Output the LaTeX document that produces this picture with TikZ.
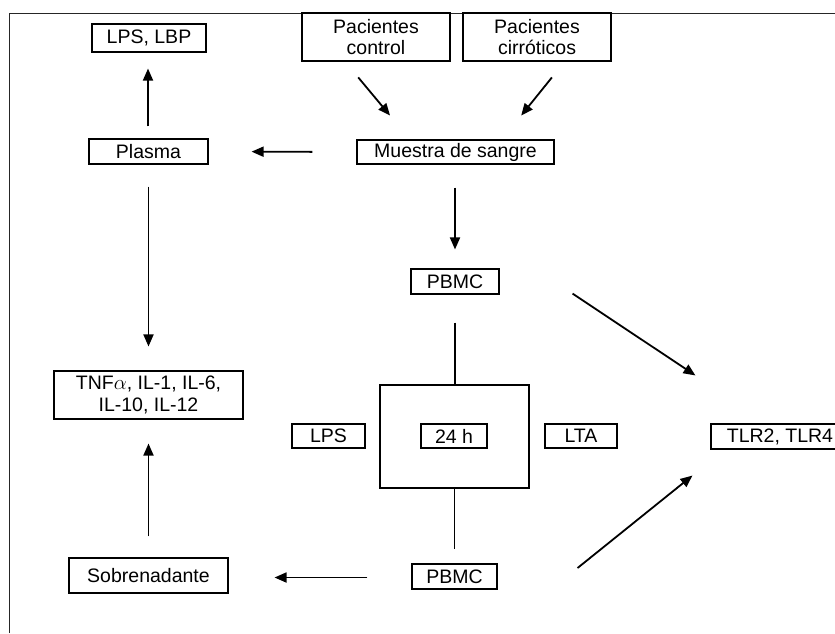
\documentclass[tikz,border=0pt]{standalone}
\usepackage{fontspec}
\setmainfont{Liberation Sans}
\usetikzlibrary{arrows.meta}
\begin{document}
\begin{tikzpicture}[x=1pt,y=-1pt,
  box/.style={draw,line width=1.1pt,rectangle,inner sep=0pt,align=center,
    font=\fontsize{19.5}{21.5}\selectfont},
  arr/.style={line width=1.8pt,-{Triangle[length=12pt,width=10pt]}},
  ln/.style={line width=1.1pt}]
\useasboundingbox (0,0) rectangle (835,633);
\clip (0,0) rectangle (835,633);
\draw[line width=1pt,black!85] (9,633) -- (9,13) -- (835,13);
% nodes
\node[box,minimum width=114pt,minimum height=28pt] (lpslbp) at (149,38) {LPS, LBP};
\node[box,minimum width=119pt,minimum height=25pt] (plasma) at (148.5,151.5) {Plasma};
\node[box,minimum width=189pt,minimum height=48pt] (tnf) at (148.5,395) {TNF$\alpha$, IL-1, IL-6,\\IL-10, IL-12};
\node[box,minimum width=159pt,minimum height=35pt] (sobre) at (148.5,575.5) {Sobrenadante};
\node[box,minimum width=148pt,minimum height=48pt] (control) at (376,37) {Pacientes\\control};
\node[box,minimum width=148pt,minimum height=48pt] (cirr) at (537,37) {Pacientes\\cirróticos};
\node[box,minimum width=197pt,minimum height=24pt] (muestra) at (455.5,152) {Muestra de sangre};
\node[box,minimum width=88pt,minimum height=25pt] (pbmca) at (455,281.5) {PBMC};
\node[draw,line width=1.1pt,minimum width=149pt,minimum height=103pt,inner sep=0pt] (big) at (454.5,436.5) {};
\node[box,minimum width=66pt,minimum height=24pt] (h24) at (454,436) {24 h};
\node[box,minimum width=73pt,minimum height=24pt] (lps) at (328.5,436) {LPS};
\node[box,minimum width=72pt,minimum height=24pt] (lta) at (581,436) {LTA};
\node[box,minimum width=138pt,minimum height=25pt] (tlr) at (780,436.5) {TLR2, TLR4};
\node[box,minimum width=85pt,minimum height=25pt] (pbmcb) at (454.5,576.5) {PBMC};
% connectors
\draw[arr,shorten <=12pt,shorten >=16pt] ([xshift=-0.5pt]plasma.north) -- ([xshift=-1pt]lpslbp.south);
\draw[arr,shorten <=44pt,shorten >=43pt] (muestra.west) -- (plasma.east);
\draw[arr,shorten <=22pt,shorten >=24pt] (plasma.south) -- (tnf.north);
\draw[arr,shorten <=21pt,shorten >=24pt] (sobre.north) -- (tnf.south);
\draw[arr,shorten <=44pt,shorten >=46pt] ([yshift=-1pt]pbmcb.west) -- ([yshift=-1pt]pbmcb.west -| sobre.east);
\draw[arr,shorten <=20.6pt,shorten >=31.2pt] ([xshift=-31pt]control.south) -- ([xshift=-45.5pt]muestra.north);
\draw[arr,shorten <=20.4pt,shorten >=30.7pt] ([xshift=27.7pt]cirr.south) -- ([xshift=46.4pt]muestra.north);
\draw[arr,shorten <=23pt,shorten >=19pt] ([xshift=-0.5pt]muestra.south) -- (pbmca.north);
\draw[ln,shorten <=28pt] (pbmca.south) -- (pbmca.south |- big.north);
\draw[ln,shorten >=14pt] (big.south) -- (big.south |- pbmcb.north);
\draw[arr] ([xshift=73pt,yshift=1pt]pbmca.south east) -- ([xshift=-15pt,yshift=48pt]tlr.north west);
\draw[arr] ([xshift=80pt,yshift=8.5pt]pbmcb.east) -- ([xshift=-18pt,yshift=-26pt]tlr.south west);
\end{tikzpicture}
\end{document}
